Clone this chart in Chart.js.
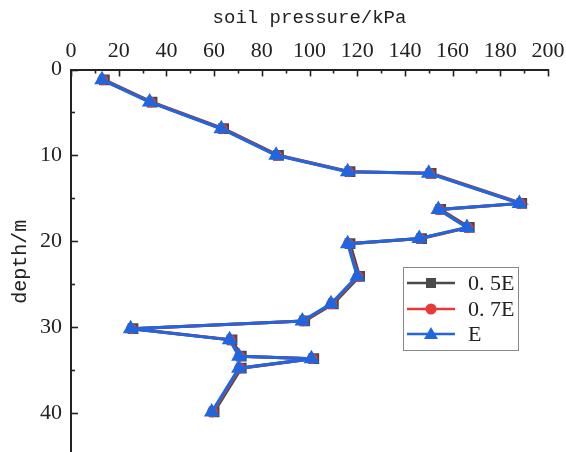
<!DOCTYPE html>
<html>
<head>
<meta charset="utf-8">
<script src="https://cdn.jsdelivr.net/npm/chart.js@4"></script>
<style>
  body { margin: 0; background: #fff; overflow: hidden; }
  canvas { display: block; }
</style>
</head>
<body>
<canvas id="chart" width="566" height="463"></canvas>
<script>
// data
const depth = [1.2, 3.8, 6.9, 10.0, 11.9, 12.1, 15.6, 16.3, 18.4, 19.7, 20.3, 24.1, 27.3, 29.3, 30.2, 31.5, 33.4, 33.7, 34.8, 39.9];
const pressE = [13, 33, 63, 86, 116, 150, 188, 154, 166, 146, 116, 120, 109, 97, 25, 66.5, 70.4, 100.8, 70.4, 59];
const press07E = [13.3, 33.3, 63.3, 86.3, 116.3, 150.3, 188.3, 154.3, 166.3, 146.3, 116.3, 120.3, 109.3, 97.3, 25.3, 66.8, 70.7, 101.1, 70.7, 59.3];
const press05E = [14, 34, 64, 87, 117, 151, 189, 155, 167, 147, 117, 121, 110, 98, 26, 67.5, 71.4, 101.8, 71.4, 60];
const seriesNames = ['0. 5E', '0. 7E', 'E'];
const xTicks = [0, 20, 40, 60, 80, 100, 120, 140, 160, 180, 200];
const yTicks = [0, 10, 20, 30, 40];

function pts(p) {
    return p.map((v, i) => ({ x: v, y: depth[i] }));
}

// inward ticks like Origin
const innerTicks = {
    id: 'innerTicks',
    afterDraw(chart) {
        const ctx = chart.ctx;
        const xs = chart.scales.x, ys = chart.scales.y;
        ctx.save();
        ctx.strokeStyle = '#222';
        ctx.lineWidth = 1.6;
        for (let v = 0; v <= 200; v += 10) {
            const px = Math.round(xs.getPixelForValue(v)) + 0.5;
            const len = v % 20 === 0 ? 7 : 4;
            ctx.beginPath();
            ctx.moveTo(px, xs.bottom);
            ctx.lineTo(px, xs.bottom + len);
            ctx.stroke();
        }
        for (let v = 0; v <= 45; v += 5) {
            const py = Math.round(ys.getPixelForValue(v)) + 0.5;
            const len = v % 10 === 0 ? 7 : 4;
            ctx.beginPath();
            ctx.moveTo(ys.right, py);
            ctx.lineTo(ys.right + len, py);
            ctx.stroke();
        }
        ctx.restore();
    }
};

// legend box inside plot
const boxLegend = {
    id: 'boxLegend',
    afterDraw(chart) {
        const ctx = chart.ctx;
        ctx.save();
        ctx.strokeStyle = '#888';
        ctx.lineWidth = 1;
        ctx.fillStyle = '#fff';
        ctx.fillRect(403.5, 267.5, 115, 83);
        ctx.strokeRect(403.5, 267.5, 115, 83);
        const rows = [283, 309, 334];
        const list = chart.data.datasets;
        list.forEach((ds, i) => {
            const y = rows[i];
            ctx.strokeStyle = ds.borderColor;
            ctx.lineWidth = 2.5;
            ctx.beginPath();
            ctx.moveTo(407, y);
            ctx.lineTo(455, y);
            ctx.stroke();
            ctx.fillStyle = ds.pointBackgroundColor;
            ctx.beginPath();
            if (ds.pointStyle === 'rect') {
                ctx.fillRect(431 - 5, y - 5, 10, 10);
            } else if (ds.pointStyle === 'circle') {
                ctx.arc(431, y, 5.5, 0, Math.PI * 2);
                ctx.fill();
            } else {
                ctx.moveTo(431, y - 7);
                ctx.lineTo(438, y + 5);
                ctx.lineTo(424, y + 5);
                ctx.closePath();
                ctx.fill();
            }
            ctx.fillStyle = '#222';
            ctx.font = '22px "Liberation Serif"';
            ctx.textBaseline = 'middle';
            ctx.fillText(ds.label, 468, y + 1);
        });
        ctx.restore();
    }
};

const ctx = document.getElementById('chart').getContext('2d');
new Chart(ctx, {
    type: 'line',
    data: {
        datasets: [{
            label: seriesNames[0],
            data: pts(press05E),
            order: 3,
            borderColor: '#4a4a4a',
            pointBackgroundColor: '#4a4a4a',
            pointBorderColor: '#4a4a4a',
            pointStyle: 'rect',
            pointRadius: 5.5,
            borderWidth: 3
        }, {
            label: seriesNames[1],
            data: pts(press07E),
            order: 2,
            borderColor: '#e8393a',
            pointBackgroundColor: '#e8393a',
            pointBorderColor: '#e8393a',
            pointStyle: 'circle',
            pointRadius: 4,
            borderWidth: 3
        }, {
            label: seriesNames[2],
            data: pts(pressE),
            order: 1,
            borderColor: '#1f66e0',
            pointBackgroundColor: '#1f66e0',
            pointBorderColor: '#1f66e0',
            pointStyle: 'triangle',
            pointRadius: 6,
            borderWidth: 3
        }]
    },
    options: {
        responsive: false,
        animation: false,
        layout: { padding: { left: 0, right: 18, top: 0, bottom: 0 } },
        plugins: {
            legend: { display: false },
            tooltip: { enabled: false }
        },
        elements: { line: { tension: 0 } },
        scales: {
            x: {
                type: 'linear',
                position: 'top',
                min: 0,
                max: 200,
                afterBuildTicks: (s) => { s.ticks = xTicks.map(v => ({ value: v })); },
                afterFit: (s) => {
                    s.height = 69.5;
                    s.paddingLeft = 0; s.paddingRight = 0;
                },
                grid: { drawOnChartArea: false, drawTicks: false },
                border: { color: '#222', width: 2 },
                ticks: {
                    color: '#222',
                    padding: 5,
                    maxRotation: 0,
                    font: { family: 'Liberation Serif', size: 22 }
                },
                title: {
                    display: true,
                    text: 'soil pressure/kPa',
                    color: '#222',
                    padding: { top: 7, bottom: 0 },
                    font: { family: 'Liberation Mono', size: 19 }
                }
            },
            y: {
                type: 'linear',
                reverse: true,
                min: 0,
                max: 44.8,
                afterBuildTicks: (s) => { s.ticks = yTicks.map(v => ({ value: v })); },
                afterFit: (s) => {
                    s.width = 71;
                    s.paddingTop = 0; s.paddingBottom = 0;
                },
                grid: { drawOnChartArea: false, drawTicks: false },
                border: { color: '#222', width: 2 },
                ticks: {
                    color: '#222',
                    padding: 9,
                    font: { family: 'Liberation Serif', size: 22 }
                },
                title: {
                    display: true,
                    text: 'depth/m',
                    color: '#222',
                    padding: { top: 9, bottom: 0 },
                    font: { family: 'Liberation Mono', size: 20 }
                }
            }
        }
    },
    plugins: [innerTicks, boxLegend]
});
</script>
</body>
</html>
